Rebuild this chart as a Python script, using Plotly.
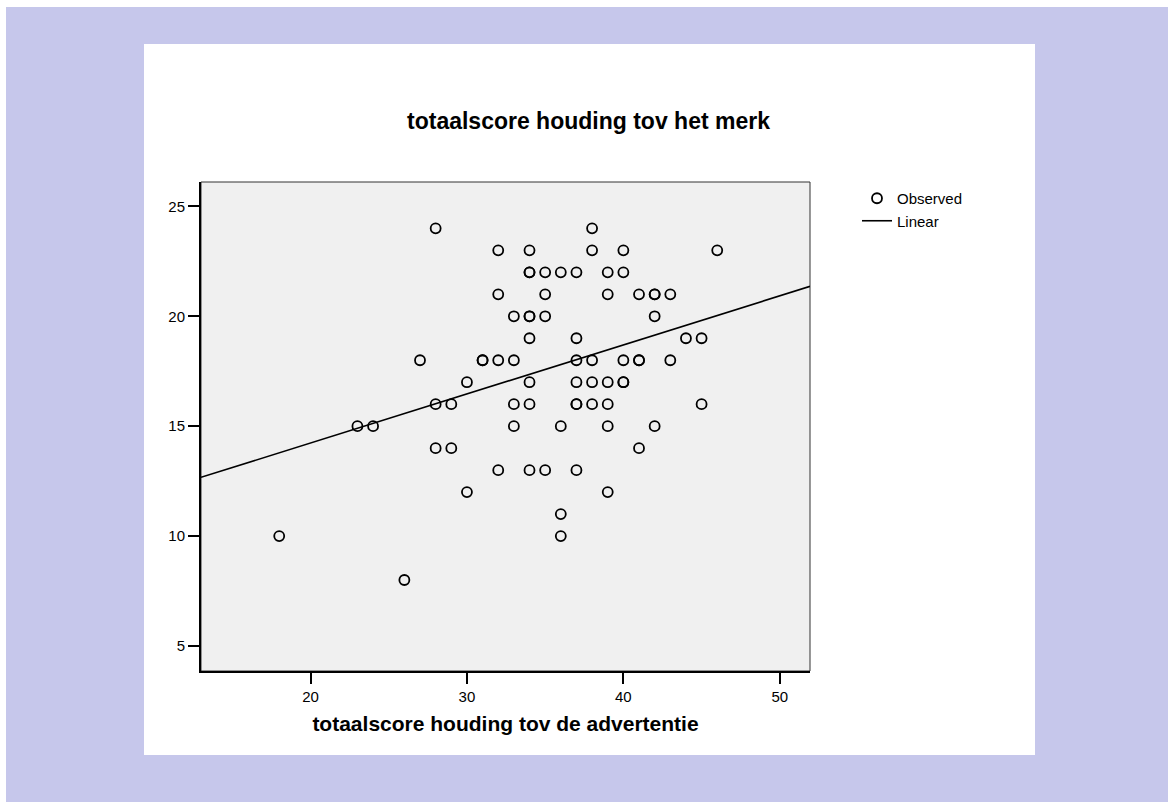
import numpy as np
import plotly.graph_objects as go

# ---- data ----
advertentie = [18, 23, 24, 26, 27, 28, 28, 28, 29, 29, 30, 30,
               31, 31, 32, 32, 32, 32, 33, 33, 33, 33,
               34, 34, 34, 34, 34, 34, 34, 34, 34,
               35, 35, 35, 35,
               36, 36, 36, 36,
               37, 37, 37, 37, 37, 37, 37,
               38, 38, 38, 38, 38,
               39, 39, 39, 39, 39, 39,
               40, 40, 40, 40, 40,
               41, 41, 41, 41,
               42, 42, 42, 42,
               43, 43,
               44, 45, 45, 46]
merk = [10, 15, 15, 8, 18, 24, 16, 14, 16, 14, 17, 12,
        18, 18, 23, 21, 18, 13, 20, 18, 16, 15,
        23, 22, 22, 20, 20, 19, 17, 16, 13,
        22, 21, 20, 13,
        22, 15, 11, 10,
        22, 19, 18, 17, 16, 16, 13,
        24, 23, 18, 17, 16,
        22, 21, 17, 16, 15, 12,
        23, 22, 18, 17, 17,
        21, 18, 18, 14,
        21, 21, 20, 15,
        21, 18,
        19, 19, 16, 23]

# linear fit
fit_intercept = 9.77
fit_slope = 0.2232

x_range = [13.0, 51.93]
y_range = [3.86, 26.11]
x_ticks = [20, 30, 40, 50]
y_ticks = [5, 10, 15, 20, 25]

title_text = "totaalscore houding tov het merk"
x_title = "totaalscore houding tov de advertentie"

FONT = "Liberation Sans, Arial, Helvetica, sans-serif"

fit_x = np.array(x_range)
fit_y = fit_intercept + fit_slope * fit_x

fig = go.Figure()
fig.add_trace(go.Scatter(
    x=advertentie, y=merk, mode="markers", name="Observed",
    marker=dict(symbol="circle-open", size=10, color="black",
                line=dict(width=1.8, color="black")),
    cliponaxis=False,
))
fig.add_trace(go.Scatter(
    x=fit_x, y=fit_y, mode="lines", name="Linear",
    line=dict(color="black", width=1.6),
))

# plot-area geometry in pixels
L, R, T, B = 201, 810, 182, 671
W_PX, H_PX = 1168, 802
pw, ph = R - L, B - T


def px_x(p):
    return (p - L) / pw


def px_y(p):
    return (B - p) / ph


shapes = [
    # lavender surround
    dict(type="rect", xref="paper", yref="paper", layer="below",
         x0=px_x(6), x1=px_x(1200), y0=px_y(830), y1=px_y(7),
         fillcolor="#c6c7eb", line=dict(width=0)),
    # white panel
    dict(type="rect", xref="paper", yref="paper", layer="below",
         x0=px_x(144), x1=px_x(1035), y0=px_y(755), y1=px_y(44),
         fillcolor="white", line=dict(width=0)),
    # grey plot area
    dict(type="rect", xref="paper", yref="paper", layer="below",
         x0=0, x1=1, y0=0, y1=1,
         fillcolor="#f0f0f0", line=dict(width=1, color="#333333")),
]

fig.update_layout(
    width=W_PX, height=H_PX,
    margin=dict(l=L, r=W_PX - R, t=T, b=H_PX - B, pad=0),
    paper_bgcolor="white",
    plot_bgcolor="rgba(0,0,0,0)",
    font=dict(family=FONT, color="black", size=15),
    shapes=shapes,
    title=dict(text="<b>" + title_text + "</b>", xref="container", yref="container",
               x=588.5 / W_PX, xanchor="center", y=1 - 121 / H_PX, yanchor="middle",
               font=dict(family=FONT, size=23, color="black")),
    showlegend=True,
    legend=dict(x=px_x(857), xanchor="left", y=1.0, yanchor="top",
                bgcolor="rgba(0,0,0,0)", borderwidth=0,
                font=dict(family=FONT, size=15, color="black"),
                tracegroupgap=0),
)

fig.update_xaxes(
    range=x_range, tickvals=x_ticks, ticks="outside", ticklen=11, tickwidth=1.5,
    tickcolor="black", showgrid=False, zeroline=False,
    showline=True, linecolor="black", linewidth=2, mirror=False,
    tickfont=dict(family=FONT, size=15, color="black"),
    title=dict(text="<b>" + x_title + "</b>", standoff=12,
               font=dict(family=FONT, size=21, color="black")),
)
fig.update_yaxes(
    range=y_range, tickvals=y_ticks, ticks="outside", ticklen=11, tickwidth=1.5,
    tickcolor="black", showgrid=False, zeroline=False,
    showline=True, linecolor="black", linewidth=2, mirror=False,
    tickfont=dict(family=FONT, size=15, color="black"),
)

fig.write_html("out.html")
